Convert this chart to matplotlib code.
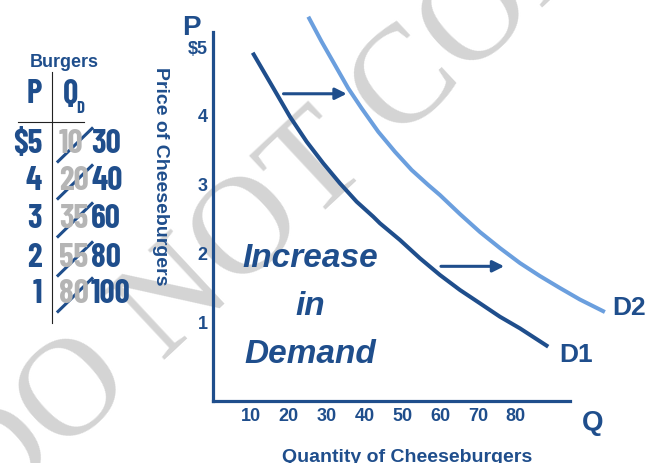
import matplotlib
matplotlib.use('Agg')
import matplotlib.pyplot as plt

NAVY = '#1f4e8c'
LIGHT = '#6b9fde'
GRAY = '#b5b5b5'
MARK = '#d4d4d4'

# demand schedule (table on the left)
prices = ['$5', '4', '3', '2', '1']
qd_old = ['10', '20', '35', '55', '80']
qd_new = ['30', '40', '60', '80', '100']

# demand curves, read as (Q, P) pairs
d1_q = [10.46, 15.90, 20.31, 24.72, 29.11, 33.52, 37.93, 42.31, 44.08,
        49.37, 54.65, 59.93, 65.21, 70.50, 75.78, 81.06, 88.54]
d1_p = [4.917, 4.404, 3.986, 3.623, 3.308, 3.017, 2.750, 2.532, 2.436,
        2.193, 1.927, 1.684, 1.466, 1.272, 1.077, 0.908, 0.641]
d2_q = [25.15, 28.68, 32.20, 35.71, 39.25, 43.63, 48.04, 52.46, 56.84,
        59.93, 65.21, 70.50, 75.78, 81.06, 86.34, 91.62, 96.91, 103.51]
d2_p = [5.441, 5.077, 4.738, 4.399, 4.108, 3.768, 3.477, 3.211, 2.993,
        2.847, 2.571, 2.309, 2.076, 1.858, 1.669, 1.495, 1.327, 1.145]

# shift arrows: (Q start, Q end, P)
shifts = [(18.6, 35.3, 4.32), (60.2, 76.9, 1.81)]

q_ticks = [10, 20, 30, 40, 50, 60, 70, 80]
p_ticks = [1, 2, 3, 4, 5]
p_labels = ['1', '2', '3', '4', '$5']

narrow = ['Barlow Condensed', 'Roboto Condensed', 'Liberation Sans']
sans = ['Liberation Sans', 'DejaVu Sans']

fig = plt.figure(figsize=(6.62, 4.63), dpi=100)

# watermark layer
bg = fig.add_axes([0, 0, 1, 1])
bg.set_xlim(0, 662)
bg.set_ylim(463, 0)
bg.axis('off')
bg.text(307, 182, 'DO NOT COPY', fontsize=101, family=['Liberation Serif', 'DejaVu Serif'],
        color=MARK, rotation=43, rotation_mode='anchor', ha='center', va='center')

# the chart
ax = fig.add_axes([0, 0, 1, 1])
ax.patch.set_visible(False)
ax.set_xlim(-56.3, 118.6)
ax.set_ylim(-1.051, 5.684)
ax.spines['top'].set_visible(False)
ax.spines['right'].set_visible(False)
ax.spines['left'].set_position(('data', 0))
ax.spines['bottom'].set_position(('data', -0.15))
ax.spines['left'].set_bounds(-0.15, 5.22)
ax.spines['bottom'].set_bounds(0, 94.3)
for s in ['left', 'bottom']:
    ax.spines[s].set_linewidth(2.3)
    ax.spines[s].set_color(NAVY)
ax.set_xticks(q_ticks)
ax.set_xticklabels([str(q) for q in q_ticks])
ax.set_yticks(p_ticks)
ax.set_yticklabels(p_labels)
ax.tick_params(axis='x', length=0, pad=5)
ax.tick_params(axis='y', length=0, pad=4)
for lab in ax.get_xticklabels() + ax.get_yticklabels():
    lab.set_family(sans)
    lab.set_fontweight('bold')
    lab.set_fontsize(13)
    lab.set_color(NAVY)

ax.plot(d2_q, d2_p, color=LIGHT, lw=2.9, solid_capstyle='butt', solid_joinstyle='round')
ax.plot(d1_q, d1_p, color=NAVY, lw=2.9, solid_capstyle='butt', solid_joinstyle='round')
for q0, q1, p in shifts:
    ax.annotate('', xy=(q1, p), xytext=(q0, p),
                arrowprops=dict(arrowstyle='-|>', color=NAVY, lw=2.2,
                                mutation_scale=17, shrinkA=0, shrinkB=0))

# labels and table, in pixel coordinates
ov = fig.add_axes([0, 0, 1, 1])
ov.patch.set_visible(False)
ov.set_xlim(0, 662)
ov.set_ylim(463, 0)
ov.axis('off')

ov.text(191, 35, 'P', fontsize=20, fontweight='bold', family=sans, color=NAVY, ha='center')
ov.text(593, 430, 'Q', fontsize=20, fontweight='bold', family=sans, color=NAVY, ha='center')
ov.text(160, 176, 'Price of Cheeseburgers', fontsize=14, fontweight='bold', family=sans,
        color=NAVY, rotation=-90, ha='center', va='center')
ov.text(407, 462, 'Quantity of Cheeseburgers', fontsize=14, fontweight='bold', family=sans,
        color=NAVY, ha='center')
ov.text(559, 362, 'D1', fontsize=19, fontweight='bold', family=sans, color=NAVY)
ov.text(612, 315, 'D2', fontsize=19, fontweight='bold', family=sans, color=NAVY)
for txt, y in [('Increase', 267), ('in', 315), ('Demand', 363)]:
    ov.text(310, y, txt, fontsize=24, fontweight='bold', style='italic', family=sans,
            color=NAVY, ha='center')

# demand table
ov.text(64, 67, 'Burgers', fontsize=13, fontweight='bold', family=sans, color=NAVY, ha='center')
ov.text(42, 103, 'P', fontsize=24, fontweight='bold', family=narrow, color=NAVY, ha='right')
ov.text(63, 103, 'Q', fontsize=24, fontweight='bold', family=narrow, color=NAVY)
ov.text(76, 113, 'D', fontsize=12, fontweight='bold', family=narrow, color=NAVY)
ov.plot([51.5, 51.5], [72, 323], color='#222222', lw=0.8)
ov.plot([18, 84], [122, 122], color='#222222', lw=0.8)
rows = [153, 190, 228, 267, 303]
for i, base in enumerate(rows):
    ov.text(42, base, prices[i], fontsize=24, fontweight='bold', family=narrow,
            color=NAVY, ha='right')
    ov.text(59, base, qd_old[i], fontsize=24, fontweight='bold', family=narrow, color=GRAY)
    ov.text(91, base, qd_new[i], fontsize=24, fontweight='bold', family=narrow, color=NAVY)
    mid = base - 11.5
    ov.plot([58, 92], [mid + 20, mid - 13], color=NAVY, lw=2.2)

fig.savefig('out.png', dpi=100)
